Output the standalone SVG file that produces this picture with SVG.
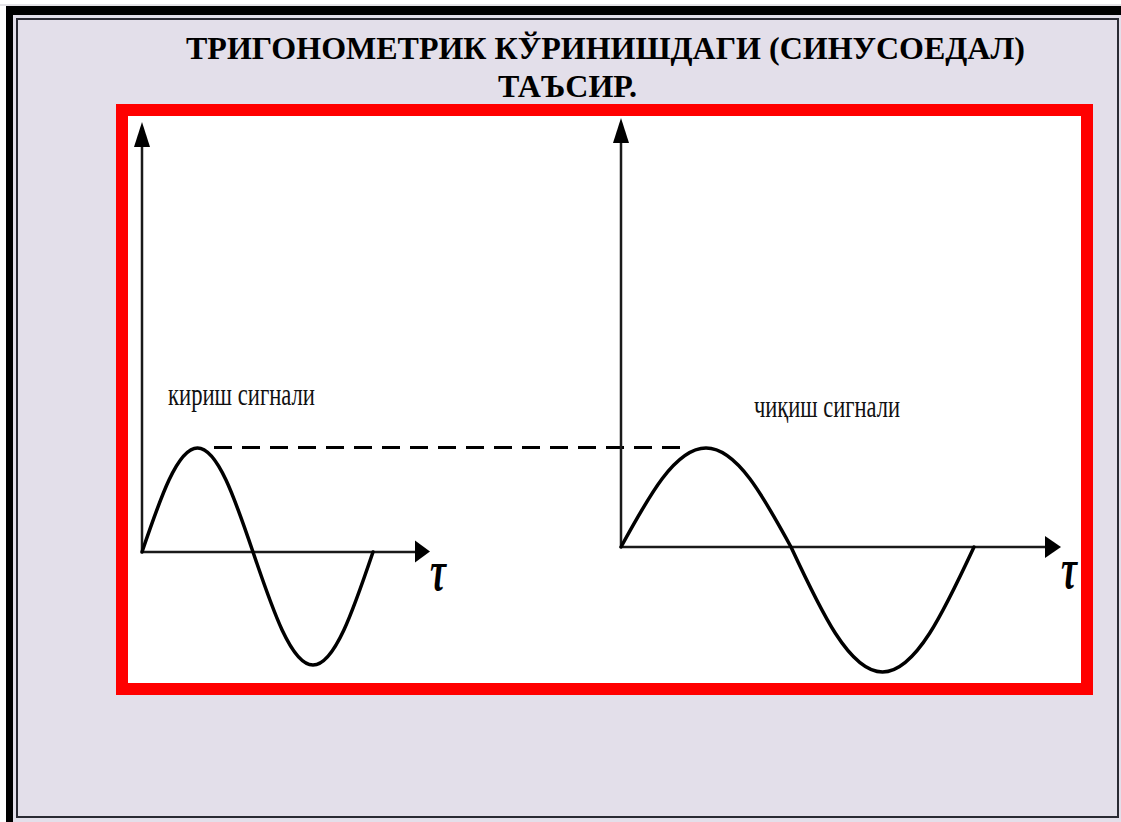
<svg xmlns="http://www.w3.org/2000/svg" width="1121" height="822" viewBox="0 0 1121 822">
  <style>
    .title { font-family: "Liberation Serif", "Times New Roman", serif; font-weight: bold; font-size: 32px; fill: #000; }
    .label { font-family: "Liberation Serif", "Times New Roman", serif; font-size: 32px; fill: #111; }
    .tau { font-family: "Liberation Serif", "Times New Roman", serif; font-style: italic; font-weight: bold; font-size: 56px; fill: #000; }
    .axis { stroke: #1a1a1a; stroke-width: 2.5; fill: none; }
    .wave { stroke: #000; stroke-width: 3.5; fill: none; stroke-linecap: round; }
    .dash { stroke: #000; stroke-width: 3; stroke-dasharray: 18 10; fill: none; }
    .head { fill: #000; }
  </style>
  <rect x="0" y="0" width="1121" height="822" fill="#FFFFFF"/>
  <line x1="0" y1="5" x2="1121" y2="5" stroke="#C9C6CF" stroke-width="1"/>
  <g id="frame">
    <rect x="6" y="6" width="1115" height="816" fill="#000"/>
    <rect x="13" y="15" width="1108" height="807" fill="#E3DFEA"/>
    <rect x="17" y="19" width="1101" height="798" fill="#E3DFEA" stroke="#2a2a33" stroke-width="2"/>
  </g>
  <g id="title">
    <text class="title" x="186" y="59">ТРИГОНОМЕТРИК КЎРИНИШДАГИ (СИНУСОЕДАЛ)</text>
    <text class="title" x="498" y="97">ТАЪСИР.</text>
  </g>
  <g id="plot-frame">
    <rect x="122" y="110" width="965" height="579" fill="#FFFFFF" stroke="#FF0000" stroke-width="12"/>
  </g>
  <g id="connectors">
    <line class="dash" x1="214" y1="447.5" x2="690" y2="447.5"/>
  </g>
  <g id="input-graph">
    <line class="axis" x1="142" y1="145" x2="142" y2="552"/>
    <line class="axis" x1="142" y1="552" x2="417" y2="552"/>
    <polygon class="head" points="142,122 134,147 150,147"/>
    <polygon class="head" points="430,551.5 415,540.5 415,562.5"/>
    <path class="wave" d="M142,552 C160.1,498.7 177.4,448 197.5,448 C217.6,448 234.9,498.7 253,552 C272.6,609.9 291.3,665 313,665 C334.7,665 353.4,609.9 373,552"/>
    <text class="label" x="168" y="405" textLength="147" lengthAdjust="spacingAndGlyphs">кириш сигнали</text>
    <text class="tau" x="430" y="590" textLength="16" lengthAdjust="spacingAndGlyphs">τ</text>
  </g>
  <g id="output-graph">
    <line class="axis" x1="621" y1="141" x2="621" y2="547"/>
    <line class="axis" x1="621" y1="547" x2="1047" y2="547"/>
    <polygon class="head" points="621,118 613,143 629,143"/>
    <polygon class="head" points="1061,547 1045,536 1045,558"/>
    <path class="wave" d="M621,547 C648.7,496.3 675.2,448 706,448 C736.8,448 763.3,496.3 791,547 C820.8,611 849.4,672 882.5,672 C915.6,672 944.2,611 974,547"/>
    <text class="label" x="754" y="417" textLength="146" lengthAdjust="spacingAndGlyphs">чиқиш сигнали</text>
    <text class="tau" x="1061" y="588" textLength="16" lengthAdjust="spacingAndGlyphs">τ</text>
  </g>
</svg>
